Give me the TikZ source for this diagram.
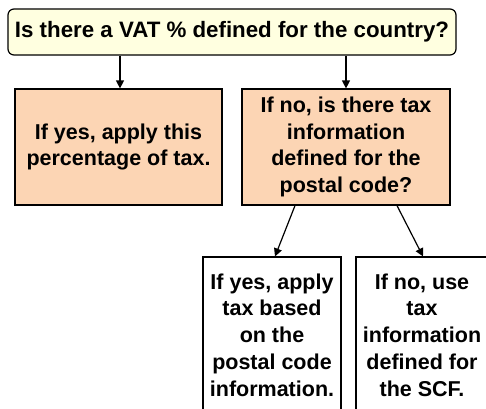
\documentclass[tikz,border=0pt]{standalone}
\usepackage{fontspec}
\setmainfont{Liberation Sans}
\usetikzlibrary{arrows.meta}
\definecolor{paleyellow}{HTML}{FFFFE0}
\definecolor{peach}{HTML}{FCD5B4}
\begin{document}
\begin{tikzpicture}[x=1pt,y=-1pt,
  every node/.style={font=\fontsize{21.5}{26.7}\selectfont\bfseries, align=center, inner sep=0pt},
  question/.style={draw, line width=1.2pt, rounded corners=6pt, fill=paleyellow,
    font=\fontsize{22.3}{26.7}\selectfont\bfseries},
  answer/.style={draw, line width=1.2pt, fill=peach},
  leaf/.style={draw, line width=1.2pt, fill=white},
  link/.style={line width=1.2pt, -{Triangle[length=8pt,width=8pt]}}]
\useasboundingbox (0,0) rectangle (486,408);
\clip (0,0) rectangle (486,408);
% decision and answers
\node[question, minimum width=448pt, minimum height=46pt] (top) at (232,32)
  {Is there a VAT \% defined for the country?};
\node[answer, minimum width=207pt, minimum height=116pt] (yes) at (118.5,147)
  {If yes, apply this\\percentage of tax.};
\node[answer, minimum width=208pt, minimum height=116pt] (no) at (346,147)
  {If no, is there tax\\information\\defined for the\\postal code?};
% second level answers (boxes run past the lower edge)
\node[leaf, minimum width=138pt, minimum height=156pt] (postal) at (272,335)
  {If yes, apply\\tax based\\on the\\postal code\\information.};
\node[leaf, minimum width=132pt, minimum height=156pt] (scf) at (422,335)
  {If no, use\\tax\\information\\defined for\\the SCF.};
% connectors
\draw[link] (top.south -| 120,0) -- (yes.north -| 120,0);
\draw[link] (top.south -| no.north) -- (no.north);
\draw[link] ([xshift=-51pt]no.south) -- ([xshift=3pt]postal.north);
\draw[link] ([xshift=51pt]no.south) -- ([xshift=1pt]scf.north);
\end{tikzpicture}
\end{document}
